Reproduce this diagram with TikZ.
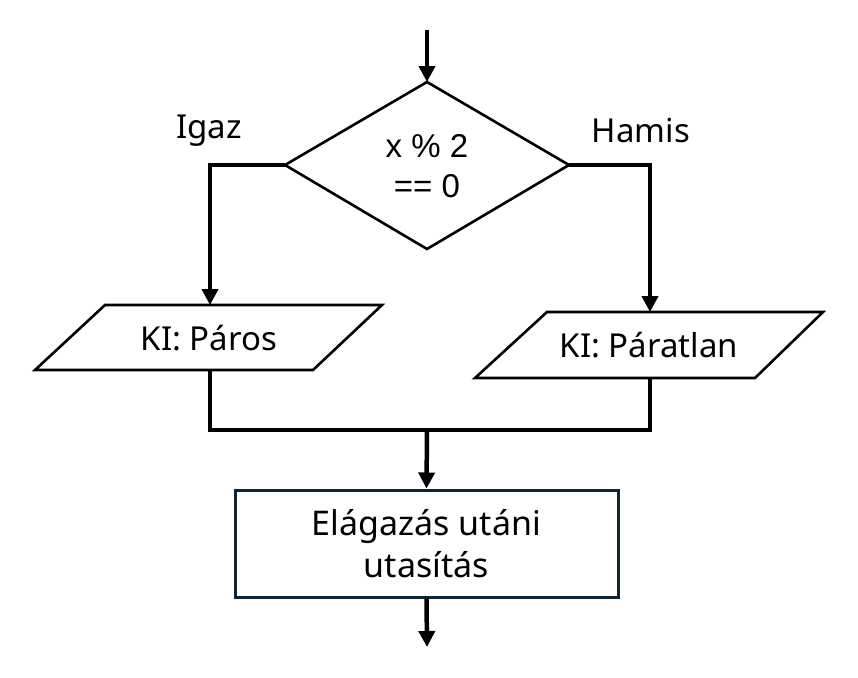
\documentclass[tikz,border=0pt]{standalone}
\usepackage{fontspec}
\setmainfont{Liberation Sans}
\newfontfamily\aptos{Noto Sans}
\usetikzlibrary{arrows.meta}
\definecolor{navy}{HTML}{0E2433}
\tikzset{
  conn/.style={line width=4.5pt, -{Triangle[length=16pt,width=16pt]}},
  wire/.style={line width=4.5pt},
  shapeline/.style={line width=2.6pt, line join=miter},
  lbl/.style={font=\aptos\fontsize{33}{40}\selectfont, inner sep=0pt},
}
\begin{document}
\begin{tikzpicture}[x=1pt,y=-1pt]
\useasboundingbox (0,0) rectangle (858,677);
% diamond
\coordinate (dT) at (427,82);
\coordinate (dL) at (285,165);
\coordinate (dR) at (569,165);
\coordinate (dB) at (427,249);
\draw[shapeline] (dT) -- (dR) -- (dB) -- (dL) -- cycle;
\node[align=center, font=\fontsize{33}{40}\selectfont] (cond) at (427,166) {x \% 2\\== 0};
% start
\coordinate (start) at (427,30);
\draw[conn] (start) -- (dT);
% left parallelogram
\coordinate (lTL) at (105,305);
\coordinate (lTR) at (382,305);
\coordinate (lBR) at (313,370);
\coordinate (lBL) at (35,370);
\draw[shapeline] (lTL) -- (lTR) -- (lBR) -- (lBL) -- cycle;
\node[lbl] (paros) at (209,338) {KI: Páros};
\coordinate (lTop) at (210,305);
\coordinate (lBot) at (210,370);
% right parallelogram
\coordinate (rTL) at (547,312);
\coordinate (rTR) at (823,312);
\coordinate (rBR) at (755,378);
\coordinate (rBL) at (475,378);
\draw[shapeline] (rTL) -- (rTR) -- (rBR) -- (rBL) -- cycle;
\node[lbl] (paratlan) at (649,345) {KI: Páratlan};
\coordinate (rTop) at (650,312);
\coordinate (rBot) at (650,378);
% labels
\node[lbl] (igaz) at (209,131) {Igaz};
\node[lbl] (hamis) at (641,131) {Hamis};
% branches
\draw[conn] (dL) -- (210,165) -- (lTop);
\draw[conn] (dR) -- (650,165) -- (rTop);
% merge
\coordinate (mL) at (210,430);
\coordinate (mR) at (650,430);
\coordinate (mM) at (427,430);
\draw[wire, line join=miter] (lBot) -- (mL) -- (mR) -- (rBot);
% box
\node[draw=navy, line width=3pt, minimum width=383pt, minimum height=107pt, inner sep=0pt,
      align=center, font=\aptos\fontsize{34}{42}\selectfont] (box) at (426.5,543.5) {Elágazás utáni\\utasítás};
\draw[conn] (mM) -- (box.north);
\coordinate (end) at (427,647);
\draw[conn] (box.south) -- (end);
\end{tikzpicture}
\end{document}
